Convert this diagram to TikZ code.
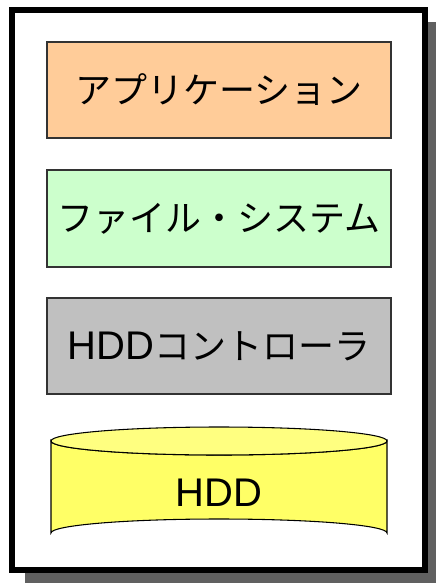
\documentclass[tikz,border=0pt]{standalone}
\usepackage{fontspec}
\setmainfont{Liberation Sans}
\newfontfamily\cjk{Noto Sans CJK JP}
\newfontfamily\latinf{Liberation Sans}
\definecolor{peach}{HTML}{FFCC99}
\definecolor{mint}{HTML}{CCFFCC}
\definecolor{ctlgray}{HTML}{C0C0C0}
\definecolor{hddyel}{HTML}{FFFF66}
\definecolor{hddtop}{HTML}{FFFF80}
\definecolor{shadowgray}{HTML}{606060}
\begin{document}
\begin{tikzpicture}[x=0.75pt,y=-0.75pt,
  layerbox/.style={draw=black!80,line width=0.8pt},
  lbl/.style={font=\fontsize{27}{30}\selectfont\cjk,inner sep=0pt},
  hddlbl/.style={font=\fontsize{30}{33}\selectfont\latinf,inner sep=0pt}]
\useasboundingbox (0,0) rectangle (436,583);
\begin{scope}
\clip (0,0) rectangle (436,583);
\fill[shadowgray] (25,22) rectangle (444,589);
\end{scope}
\draw[line width=4.5pt,fill=white] (12,10) rectangle (424.7,570);
% boxes
\draw[layerbox,fill=peach] (47,42) rectangle (391,138);
\node[lbl] (app) at (219,90) {アプリケーション};
\draw[layerbox,fill=mint] (47,170) rectangle (391,267);
\node[lbl] (fs) at (219,218.5) {ファイル・システム};
\draw[layerbox,fill=ctlgray] (47,298) rectangle (391,394);
\node[lbl] (ctl) at (219,346) {{\latinf\fontsize{30}{33}\selectfont HDD}コントローラ};
% HDD cylinder
\draw[line width=0.8pt,fill=hddyel] (51,441) -- (51,533) arc[start angle=180,end angle=360,x radius=168,y radius=14] -- (387,441) arc[start angle=0,end angle=180,x radius=168,y radius=14] -- cycle;
\draw[line width=0.8pt,fill=hddtop] (219,441) ellipse[x radius=168,y radius=14];
\node[hddlbl] (hdd) at (219,493) {HDD};
\end{tikzpicture}
\end{document}
